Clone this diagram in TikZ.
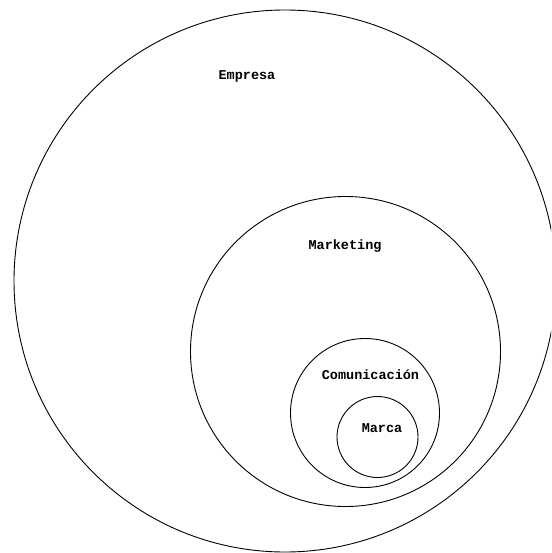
\documentclass[tikz,border=0pt]{standalone}
\usepackage{fontspec}
\setmonofont{Liberation Mono}
\begin{document}
\begin{tikzpicture}[x=1pt,y=-1pt,
  ring/.style={draw=black,line width=0.9pt,circle,inner sep=0pt,fill=none},
  lbl/.style={font=\ttfamily\bfseries\fontsize{13.5}{14}\selectfont,inner sep=0pt,text=black}]
\useasboundingbox (0,0) rectangle (551,553);
\clip (0,0) rectangle (551,553);
\fill[white] (0,0) rectangle (551,553);
\node[ring,minimum size=542pt] (empresa) at (285,281) {};
\node[ring,minimum size=310pt] (marketing) at (345.5,351.5) {};
\node[ring,minimum size=149pt] (comunicacion) at (365,413) {};
\node[ring,minimum size=81pt] (marca) at (377.5,437) {};
\node[lbl] (tempresa) at (247,76) {Empresa};
\node[lbl] (tmarketing) at (345,246) {Marketing};
\node[lbl] (tcomunicacion) at (370.5,375) {Comunicación};
\node[lbl] (tmarca) at (382,428) {Marca};
\end{tikzpicture}
\end{document}
